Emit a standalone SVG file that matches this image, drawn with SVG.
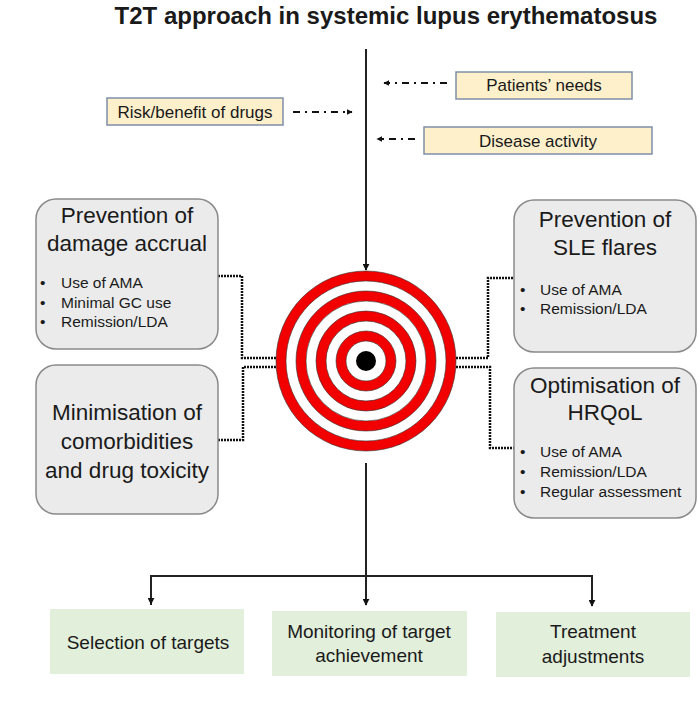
<svg xmlns="http://www.w3.org/2000/svg" width="698" height="710" viewBox="0 0 698 710">
<defs>
<style>
text{font-family:"Liberation Sans",Arial,sans-serif;fill:#1a1a1a}
.title{font-size:24px;font-weight:bold;text-anchor:middle}
.ylw{fill:#fdf0cb;stroke:#7f8ea8;stroke-width:1.5}
.grey{fill:#ebebeb;stroke:#8a8a8a;stroke-width:1.5}
.green{fill:#e2efda}
.t17{font-size:17px;text-anchor:middle}
.t18{font-size:19px;text-anchor:middle}
.big{font-size:22.5px;text-anchor:middle}
.bul{font-size:15.5px}
.dd{fill:none;stroke:#111;stroke-width:2;stroke-dasharray:7,5,2,5}
.dot{fill:none;stroke:#111;stroke-width:2.5;stroke-dasharray:2,1}
.ln{fill:none;stroke:#222;stroke-width:2}
</style>
<marker id="ah" viewBox="0 0 10 10" refX="9" refY="5" markerWidth="7" markerHeight="7" markerUnits="userSpaceOnUse" orient="auto">
<path d="M0,0 L10,5 L0,10 z" fill="#111"/>
</marker>
<marker id="ahs" viewBox="0 0 10 10" refX="9" refY="5" markerWidth="6" markerHeight="6" markerUnits="userSpaceOnUse" orient="auto">
<path d="M0,0 L10,5 L0,10 z" fill="#111"/>
</marker>
</defs>
<rect width="698" height="710" fill="#fff"/>
<text class="title" x="386" y="24">T2T approach in systemic lupus erythematosus</text>

<g id="connectors">
<line class="ln" x1="366" y1="49" x2="366" y2="270" marker-end="url(#ah)"/>
<line class="dd" x1="447" y1="83" x2="384" y2="83" marker-end="url(#ahs)"/>
<line class="dd" x1="293" y1="112" x2="352" y2="112" marker-end="url(#ahs)"/>
<line class="dd" x1="415" y1="139" x2="377" y2="139" marker-end="url(#ahs)"/>
<polyline class="dot" points="218,276 242,276 242,358 276,358"/>
<polyline class="dot" points="218,440 243,440 243,367 276,367"/>
<polyline class="dot" points="456,358 488,358 488,278 514,278"/>
<polyline class="dot" points="456,367 490,367 490,448 514,448"/>
<line class="ln" x1="366" y1="463" x2="366" y2="605" marker-end="url(#ah)"/>
<polyline class="ln" points="151,605 151,576 592,576 592,606" marker-end="url(#ah)"/>
<line x1="151" y1="590" x2="151" y2="604" stroke="#222" stroke-width="2" marker-end="url(#ah)"/>
</g>

<g id="target">
<circle cx="366" cy="361" r="90" fill="#f20000" stroke="#333" stroke-width="0.6"/>
<circle cx="366" cy="361" r="80" fill="#fff" stroke="#333" stroke-width="0.6"/>
<circle cx="366" cy="361" r="70" fill="#f20000" stroke="#333" stroke-width="0.6"/>
<circle cx="366" cy="361" r="60" fill="#fff" stroke="#333" stroke-width="0.6"/>
<circle cx="366" cy="361" r="50" fill="#f20000" stroke="#333" stroke-width="0.6"/>
<circle cx="366" cy="361" r="40" fill="#fff" stroke="#333" stroke-width="0.6"/>
<circle cx="366" cy="361" r="30" fill="#f20000" stroke="#333" stroke-width="0.6"/>
<circle cx="366" cy="361" r="20" fill="#fff" stroke="#333" stroke-width="0.6"/>
<circle cx="366" cy="361" r="10" fill="#000"/>
</g>

<g id="patients-needs">
<rect class="ylw" x="456" y="72" width="176" height="27"/>
<text class="t17" x="544" y="91">Patients’ needs</text>
</g>
<g id="risk-benefit">
<rect class="ylw" x="107" y="98" width="176" height="27"/>
<text class="t17" x="195" y="118">Risk/benefit of drugs</text>
</g>
<g id="disease-activity">
<rect class="ylw" x="424" y="127" width="228" height="27"/>
<text class="t17" x="538" y="147">Disease activity</text>
</g>

<g id="damage-accrual">
<rect class="grey" x="36" y="199" width="182" height="150" rx="20"/>
<text class="big" x="127" y="223">Prevention of</text>
<text class="big" x="127" y="251">damage accrual</text>
<text class="bul" x="40" y="288">•</text><text class="bul" x="61" y="288">Use of AMA</text>
<text class="bul" x="40" y="307.5">•</text><text class="bul" x="61" y="307.5">Minimal GC use</text>
<text class="bul" x="40" y="327">•</text><text class="bul" x="61" y="327">Remission/LDA</text>
</g>
<g id="comorbidities">
<rect class="grey" x="36" y="365" width="182" height="149" rx="20"/>
<text class="big" x="127" y="420">Minimisation of</text>
<text class="big" x="127" y="449">comorbidities</text>
<text class="big" x="127" y="478">and drug toxicity</text>
</g>
<g id="sle-flares">
<rect class="grey" x="514" y="200" width="182" height="152" rx="20"/>
<text class="big" x="605" y="227">Prevention of</text>
<text class="big" x="605" y="255">SLE flares</text>
<text class="bul" x="520" y="295">•</text><text class="bul" x="540" y="295">Use of AMA</text>
<text class="bul" x="520" y="314">•</text><text class="bul" x="540" y="314">Remission/LDA</text>
</g>
<g id="hrqol">
<rect class="grey" x="514" y="368" width="182" height="150" rx="20"/>
<text class="big" x="605" y="393">Optimisation of</text>
<text class="big" x="605" y="420">HRQoL</text>
<text class="bul" x="520" y="457">•</text><text class="bul" x="540" y="457">Use of AMA</text>
<text class="bul" x="520" y="477">•</text><text class="bul" x="540" y="477">Remission/LDA</text>
<text class="bul" x="520" y="497">•</text><text class="bul" x="540" y="497">Regular assessment</text>
</g>

<g id="selection">
<rect class="green" x="50" y="609" width="194" height="65"/>
<text class="t18" x="148" y="649">Selection of targets</text>
</g>
<g id="monitoring">
<rect class="green" x="272" y="611" width="195" height="65"/>
<text class="t18" x="369" y="638">Monitoring of target</text>
<text class="t18" x="369" y="662">achievement</text>
</g>
<g id="adjustments">
<rect class="green" x="496" y="612" width="194" height="65"/>
<text class="t18" x="593" y="638">Treatment</text>
<text class="t18" x="593" y="663">adjustments</text>
</g>
</svg>
